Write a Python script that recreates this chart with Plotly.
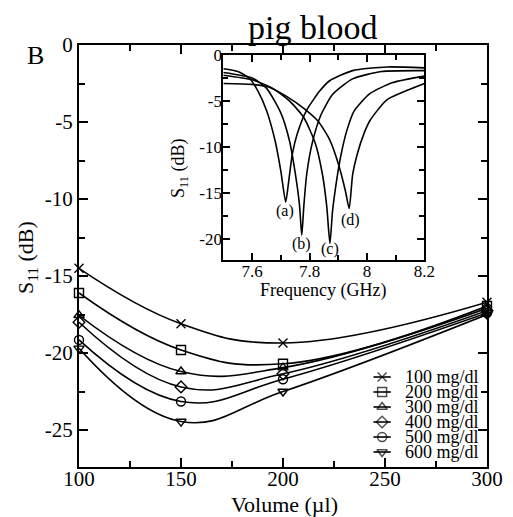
import plotly.graph_objects as go

# ---------------- data ----------------
volume = [100, 150, 200, 300]
conc_labels = ["100 mg/dl", "200 mg/dl", "300 mg/dl", "400 mg/dl", "500 mg/dl", "600 mg/dl"]
s11_100 = [-14.5, -18.1, -19.35, -16.7]
s11_200 = [-16.1, -19.8, -20.7, -16.95]
s11_300 = [-17.55, -21.2, -20.95, -17.1]
s11_400 = [-18.0, -22.2, -21.35, -17.25]
s11_500 = [-19.15, -23.15, -21.7, -17.4]
s11_600 = [-19.7, -24.45, -22.5, -17.5]

# inset: S11 vs frequency
freq_a = [7.50, 7.55, 7.59, 7.62, 7.65, 7.68, 7.70, 7.717, 7.728, 7.74, 7.757, 7.79, 7.836, 7.87, 7.95, 8.07, 8.20]
s11_a = [-1.5, -1.8, -2.5, -3.9, -6.0, -9.3, -12.6, -16.0, -13.6, -10.8, -8.6, -6.0, -3.9, -2.8, -1.7, -1.3, -1.4]
freq_b = [7.50, 7.60, 7.65, 7.70, 7.73, 7.75, 7.765, 7.773, 7.78, 7.79, 7.81, 7.84, 7.88, 7.95, 8.05, 8.20]
s11_b = [-1.9, -2.5, -3.6, -6.3, -9.3, -12.8, -16.3, -19.6, -16.5, -13.0, -9.5, -6.5, -4.3, -2.6, -1.8, -1.7]
freq_c = [7.50, 7.60, 7.67, 7.73, 7.78, 7.82, 7.845, 7.86, 7.871, 7.88, 7.895, 7.91, 7.93, 7.955, 8.01, 8.09, 8.20]
s11_c = [-2.2, -2.7, -3.6, -5.0, -6.8, -9.6, -13.0, -16.5, -20.5, -17.0, -13.5, -10.8, -8.2, -6.1, -4.2, -3.0, -2.3]
freq_d = [7.50, 7.60, 7.66, 7.72, 7.78, 7.83, 7.87, 7.90, 7.925, 7.938, 7.95, 7.966, 7.99, 8.011, 8.068, 8.136, 8.20]
s11_d = [-3.1, -3.2, -3.5, -4.5, -5.8, -7.2, -9.2, -11.8, -14.8, -16.7, -13.0, -10.8, -8.5, -7.1, -4.9, -3.9, -3.1]
curve_labels = ["(a)", "(b)", "(c)", "(d)"]
label_freq = [7.713, 7.771, 7.873, 7.941]
label_s11 = [-17.0, -20.6, -21.1, -17.9]

main_ticks = [0, -5, -10, -15, -20, -25]
inset_yticks = [0, -5, -10, -15, -20]
inset_xticks = [7.6, 7.8, 8.0, 8.2]

# ---------------- figure ----------------
FONT = "Liberation Serif"
BLACK = "black"
symbols = ["x-thin-open", "square-open", "triangle-up-open", "diamond-open", "circle-open", "triangle-down-open"]
series = [s11_100, s11_200, s11_300, s11_400, s11_500, s11_600]

fig = go.Figure()

for name, ys, sym in zip(conc_labels, series, symbols):
    fig.add_trace(go.Scatter(
        x=volume, y=ys, name=name, mode="lines+markers",
        line=dict(color=BLACK, width=1.6, shape="spline", smoothing=1.2),
        marker=dict(symbol=sym, size=9, color=BLACK, line=dict(color=BLACK, width=1.4)),
        cliponaxis=False, showlegend=False, xaxis="x", yaxis="y"))

for fx, sy in [(freq_a, s11_a), (freq_b, s11_b), (freq_c, s11_c), (freq_d, s11_d)]:
    fig.add_trace(go.Scatter(
        x=fx, y=sy, mode="lines",
        line=dict(color=BLACK, width=1.6, shape="spline", smoothing=0.6),
        showlegend=False, xaxis="x2", yaxis="y2"))

# manual legend keys on a pixel overlay axis
leg_rows = [377, 392, 407, 422, 437, 452]
for sym, yy in zip(symbols, leg_rows):
    fig.add_trace(go.Scatter(
        x=[385, 394, 403], y=[yy, yy, yy], mode="lines+markers",
        line=dict(color=BLACK, width=1.6),
        marker=dict(symbol=sym, size=[0, 9, 0], color=BLACK, line=dict(color=BLACK, width=1.4)),
        showlegend=False, xaxis="x3", yaxis="y3", hoverinfo="skip", cliponaxis=False))

annotations = []
for name, yy in zip(conc_labels, leg_rows):
    annotations.append(dict(text=name, x=416, y=yy, xref="x3", yref="y3",
                            xanchor="left", yanchor="middle", showarrow=False,
                            font=dict(family=FONT, size=18, color=BLACK)))

for lab, fx, sy in zip(curve_labels, label_freq, label_s11):
    annotations.append(dict(text=lab, x=fx, y=sy, xref="x2", yref="y2",
                            showarrow=False, xanchor="center", yanchor="middle",
                            font=dict(family=FONT, size=16, color=BLACK)))

def paper_x(px):
    return (px - 79) / 424.0

def paper_y(py):
    return (467 - py) / 422.0

annotations += [
    dict(text="pig blood", x=paper_x(322), y=paper_y(28), xref="paper", yref="paper",
         showarrow=False, xanchor="center", yanchor="middle",
         font=dict(family=FONT, size=34, color=BLACK)),
    dict(text="B", x=paper_x(34), y=paper_y(55), xref="paper", yref="paper",
         showarrow=False, xanchor="center", yanchor="middle",
         font=dict(family=FONT, size=26, color=BLACK)),
    dict(text="Volume (µl)", x=paper_x(293), y=paper_y(505), xref="paper", yref="paper",
         showarrow=False, xanchor="center", yanchor="middle",
         font=dict(family=FONT, size=22, color=BLACK)),
    dict(text="S<sub>11</sub> (dB)", x=paper_x(25), y=paper_y(258), xref="paper", yref="paper",
         showarrow=False, xanchor="center", yanchor="middle", textangle=-90,
         font=dict(family=FONT, size=22, color=BLACK)),
    dict(text="Frequency (GHz)", x=paper_x(333), y=paper_y(290), xref="paper", yref="paper",
         showarrow=False, xanchor="center", yanchor="middle",
         font=dict(family=FONT, size=18, color=BLACK)),
    dict(text="S<sub>11</sub> (dB)", x=paper_x(183), y=paper_y(168), xref="paper", yref="paper",
         showarrow=False, xanchor="center", yanchor="middle", textangle=-90,
         font=dict(family=FONT, size=18, color=BLACK)),
]

axis_common = dict(showgrid=False, zeroline=False, showline=True, linecolor=BLACK,
                   linewidth=2, mirror="ticks", ticks="inside", tickcolor=BLACK,
                   tickwidth=1.5)

fig.update_layout(
    width=513, height=517,
    margin=dict(l=79, r=10, t=45, b=50),
    paper_bgcolor="white", plot_bgcolor="white",
    font=dict(family=FONT, color=BLACK),
    showlegend=False,
    xaxis=dict(domain=[0, 1], range=[100, 300], anchor="y",
               tickvals=[100, 150, 200, 250, 300], ticklen=9,
               tickfont=dict(family=FONT, size=21, color=BLACK), ticklabelstandoff=-8,
               minor=dict(dtick=25, tick0=0, ticks="inside", ticklen=6, tickwidth=1.5, tickcolor=BLACK),
               **axis_common),
    yaxis=dict(domain=[0, 1], range=[-27.4, 0], anchor="x",
               tickvals=main_ticks, ticktext=[str(v) for v in main_ticks], ticklen=9,
               tickfont=dict(family=FONT, size=21, color=BLACK), ticklabelstandoff=0,
               minor=dict(dtick=2.5, tick0=0, ticks="inside", ticklen=6, tickwidth=1.5, tickcolor=BLACK),
               **axis_common),
    xaxis2=dict(domain=[paper_x(229), paper_x(438)], range=[7.5, 8.2], anchor="y2",
                tickvals=inset_xticks, ticktext=["7.6", "7.8", "8", "8.2"], ticklen=7,
                tickfont=dict(family=FONT, size=17, color=BLACK), ticklabelstandoff=-5,
                minor=dict(dtick=0.1, tick0=7.5, ticks="inside", ticklen=5, tickwidth=1.5, tickcolor=BLACK),
                **axis_common),
    yaxis2=dict(domain=[paper_y(260), paper_y(55)], range=[-22.3, 0], anchor="x2",
                tickvals=inset_yticks, ticktext=[str(v) for v in inset_yticks], ticklen=7,
                tickfont=dict(family=FONT, size=17, color=BLACK), ticklabelstandoff=-4,
                minor=dict(dtick=2.5, tick0=0, ticks="inside", ticklen=5, tickwidth=1.5, tickcolor=BLACK),
                **axis_common),
    xaxis3=dict(domain=[0, 1], range=[79, 503], overlaying="x", anchor="y3", visible=False),
    yaxis3=dict(domain=[0, 1], range=[467, 45], overlaying="y", anchor="x3", visible=False),
    annotations=annotations,
)

fig.write_html("out.html")
